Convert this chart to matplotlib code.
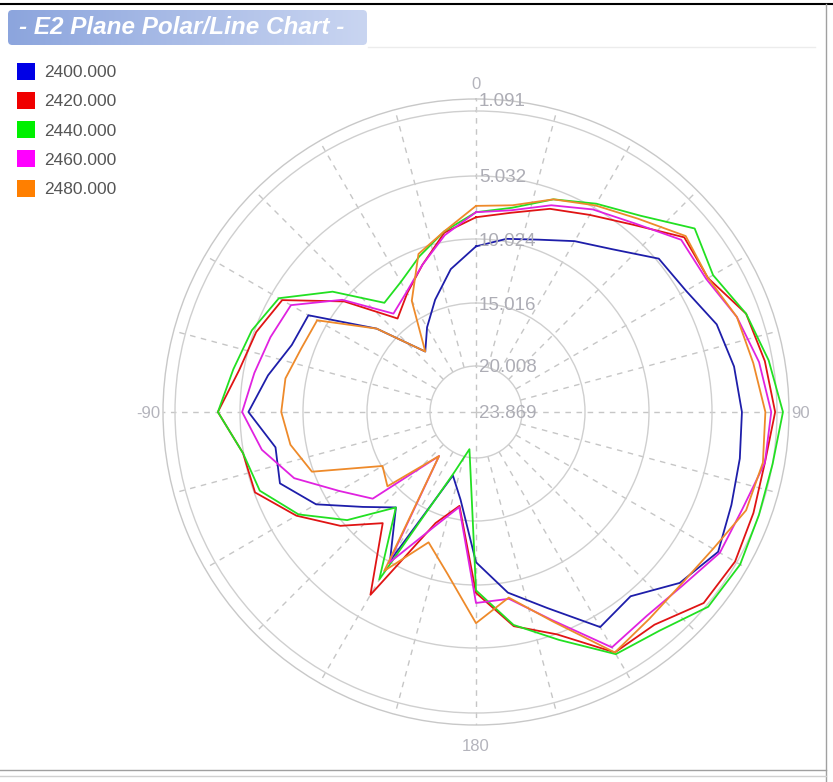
import numpy as np
import matplotlib.pyplot as plt
from matplotlib.colors import LinearSegmentedColormap
from matplotlib.patches import FancyBboxPatch, Rectangle
from matplotlib.lines import Line2D
from matplotlib.transforms import offset_copy

plt.rcParams['font.family'] = ['Liberation Sans', 'DejaVu Sans']

# measurement angles (deg, clockwise from top) and levels in dB per frequency
angles_deg = np.arange(0, 360, 10)
freqs = ['2400.000', '2420.000', '2440.000', '2460.000', '2480.000']
f2400 = [-10.6, -9.8, -9.2, -8.1, -6.9, -4.9, -4.7, -4.0, -3.7, -3.5, -3.4, -3.2,
         -2.8, -3.5, -4.8, -4.4, -7.2, -9.2, -11.8, -16.6, -18.3, -10.1, -13.8, -12.0,
         -9.1, -7.2, -7.6, -5.7, -7.0, -8.2, -8.4, -13.4, -17.4, -15.9, -14.2, -12.2]
f2420 = [-8.3, -7.7, -6.6, -5.7, -4.6, -3.2, -3.4, -2.4, -2.1, -1.8, -2.1, -2.0,
         -1.8, -1.9, -2.9, -2.9, -5.0, -6.5, -9.4, -16.1, -14.3, -7.0, -12.2, -9.7,
         -7.3, -5.1, -5.0, -3.9, -4.8, -5.2, -6.0, -10.1, -14.0, -12.8, -11.3, -9.3]
f2440 = [-7.9, -7.3, -5.8, -4.8, -4.0, -2.5, -3.1, -2.4, -1.9, -1.4, -1.7, -1.7,
         -1.5, -1.6, -2.5, -2.8, -4.7, -6.6, -9.6, -20.7, -18.5, -8.4, -13.8, -10.4,
         -7.5, -5.5, -5.0, -3.9, -4.5, -4.9, -5.7, -8.9, -12.4, -11.8, -10.6, -9.2]
f2460 = [-7.9, -7.5, -6.3, -5.2, -4.5, -3.4, -3.5, -2.9, -2.4, -2.0, -2.1, -2.6,
         -2.7, -3.3, -3.5, -3.2, -6.2, -8.7, -8.6, -16.0, -14.0, -9.9, -19.1, -13.0,
         -11.2, -8.4, -6.5, -5.2, -5.9, -6.4, -6.8, -9.9, -13.5, -12.7, -11.3, -9.5]
f2480 = [-7.4, -7.1, -5.8, -4.9, -4.2, -3.1, -3.4, -2.9, -2.7, -2.3, -2.2, -2.4,
         -3.1, -3.4, -3.3, -2.9, -6.1, -8.8, -7.0, -10.7, -12.7, -9.2, -19.1, -14.5,
         -15.1, -9.9, -8.8, -8.3, -8.4, -9.0, -9.2, -13.4, -17.4, -13.5, -10.4, -9.2]
series = [f2400, f2420, f2440, f2460, f2480]

line_colors = ['#1e1eaa', '#e01414', '#22e022', '#e022e0', '#ee8a2a']
key_colors = ['#0000e6', '#f00000', '#00f000', '#ff00ff', '#ff7f00']

# radial scale of the source chart: grid levels and where they sit (px from centre)
ring_levels = [-23.869, -20.008, -15.016, -10.024, -5.032, -1.091]
ring_labels = ['23.869', '20.008', '15.016', '10.024', '5.032', '1.091']
ring_pos = [0, 46, 109, 173, 236, 313]


def fwd(v):
    return np.interp(v, ring_levels, ring_pos)


def inv(p):
    return np.interp(p, ring_pos, ring_levels)


W, H = 833, 782
fig = plt.figure(figsize=(W / 100, H / 100), dpi=100)
fig.patch.set_facecolor('white')

cx, cy, R = 476, 412, 313
ax = fig.add_axes([(cx - R) / W, 1 - (cy + R) / H, 2 * R / W, 2 * R / H], projection='polar')
ax.set_theta_zero_location('N')
ax.set_theta_direction(-1)
ax.set_rscale('function', functions=(fwd, inv))
ax.set_rlim(-23.869, -1.091)

ax.set_yticks([-20.008, -15.016, -10.024, -5.032, float(inv(301))])
ax.set_yticklabels([])
ax.set_xticks([])
ax.tick_params(length=0)
ax.yaxis.grid(True, color='#cfcfcf', lw=1.0, ls='-')
ax.xaxis.grid(False)
ax.spines['polar'].set_color('#c8c8c8')
ax.spines['polar'].set_linewidth(1.0)

# dashed spokes every 15 deg; only the main axes reach the centre
for d in range(0, 360, 15):
    r0 = ring_levels[0] if d % 90 == 0 else ring_levels[1]
    ax.plot([np.deg2rad(d)] * 2, [r0, ring_levels[-1]], color='#c6c6c6', lw=1.0,
            ls=(0, (4, 4)), zorder=1)

for vals, col in zip(series, line_colors):
    th = np.deg2rad(np.append(angles_deg, angles_deg[0]))
    r = np.append(vals, vals[0])
    ax.plot(th, r, color=col, lw=1.3, zorder=4)

# ring value labels along the 0 spoke
trans = offset_copy(ax.transData, fig=fig, x=3, y=0, units='dots')
for lev, lab in zip(ring_levels, ring_labels):
    ax.text(0, lev, lab, transform=trans, ha='left', va='center_baseline',
            fontsize=13.5, color='#adadb5', zorder=5)

for x, y, s in [(0.5, 1.026, '0'), (1.019, 0.5, '90'), (-0.024, 0.5, '-90'), (0.5, -0.032, '180')]:
    ax.text(x, y, s, transform=ax.transAxes, ha='center', va='center_baseline',
            fontsize=12, color='#b4b4bc')

# legend
for i, (name, col) in enumerate(zip(freqs, key_colors)):
    yc = 71 + i * 29.3
    fig.patches.append(Rectangle((17 / W, 1 - (yc + 8.5) / H), 18 / W, 17 / H,
                                 transform=fig.transFigure, fc=col, ec='none'))
    fig.text(44 / W, 1 - yc / H, name, fontsize=12.5, color='#555555', va='center_baseline')

# title badge
tax = fig.add_axes([8 / W, 1 - 45 / H, 359 / W, 35 / H])
tax.set_axis_off()
tax.set_xlim(0, 1)
tax.set_ylim(0, 1)
cmap = LinearSegmentedColormap.from_list('title', ['#8ca5dd', '#c9d5f1'])
im = tax.imshow(np.linspace(0, 1, 200)[None, :], cmap=cmap, aspect='auto', extent=(0, 1, 0, 1))
box = FancyBboxPatch((0, 0), 1, 1, boxstyle='round,pad=0,rounding_size=0.012',
                     mutation_aspect=359 / 35, transform=tax.transAxes, fc='none', ec='none')
tax.add_patch(box)
im.set_clip_path(box)
tax.text(0.03, 0.5, '- E2 Plane Polar/Line Chart -', transform=tax.transAxes, color='white',
         fontsize=17.5, fontweight='bold', style='italic', va='center')

# window frame
fig.add_artist(Line2D([0, 1], [1 - 4 / H] * 2, transform=fig.transFigure, color='black', lw=1.5))
fig.add_artist(Line2D([826 / W] * 2, [0, 1 - 4 / H], transform=fig.transFigure, color='#a0a0a0', lw=1))
fig.add_artist(Line2D([0, 826 / W], [1 - 770 / H] * 2, transform=fig.transFigure, color='#a0a0a0', lw=1))
fig.add_artist(Line2D([0, 826 / W], [1 - 776 / H] * 2, transform=fig.transFigure, color='#d0d0d0', lw=1))
fig.add_artist(Line2D([368 / W, 815 / W], [1 - 47 / H] * 2, transform=fig.transFigure, color='#ececec', lw=1))

fig.savefig('out.png', dpi=100)
